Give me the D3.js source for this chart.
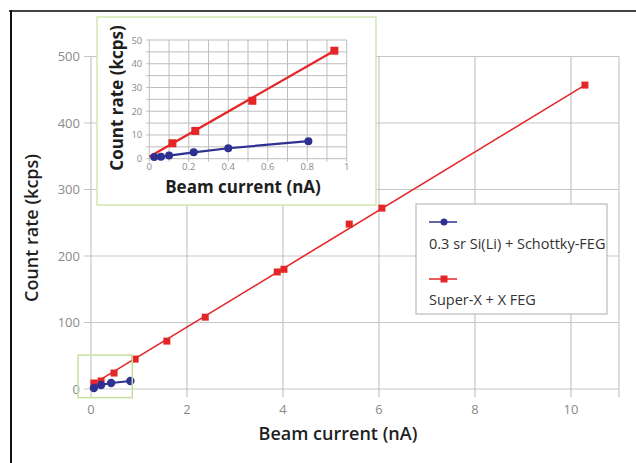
<!DOCTYPE html>
<meta charset="utf-8">
<style>
body { margin: 0; background: #fff; }
svg { display: block; font-family: "Open Sans", "Noto Sans", sans-serif; }
.tick-label { fill: #8a8a8a; }
.title { fill: #1e1e1e; }
.grid line { stroke: #c6c6c6; stroke-width: 1.2px; }
.igrid line { stroke: #bdbdbd; stroke-width: 1px; }
</style>
<body>
<script src="https://d3js.org/d3.v7.min.js"></script>
<script>

// main chart values
var xTicks = [0, 2, 4, 6, 8, 10];
var yTicks = [0, 100, 200, 300, 400, 500];

var blueX = [0.06, 0.21, 0.42, 0.82];
var blueY = [1.5, 6, 9, 12];

var redX = [0.06, 0.21, 0.48, 0.92, 1.58, 2.38, 3.88, 4.02, 5.38, 6.06, 10.29];
var redY = [9, 12, 24, 45, 72, 108, 176, 180, 248, 272, 457];
var redFitX = [0.06, 10.29];
var redFitY = [8, 457];

// inset values
var insetXTicks = [0, 0.2, 0.4, 0.6, 0.8, 1];
var insetYTicks = [0, 10, 20, 30, 40, 50];

var insetBlueX = [0.025, 0.059, 0.1, 0.225, 0.40, 0.806];
var insetBlueY = [0.7, 0.8, 1.3, 2.7, 4.4, 7.4];

var insetRedX = [0.117, 0.233, 0.522, 0.9375];
var insetRedY = [6.5, 11.7, 24.4, 45.5];
var insetRedFitX = [0, 0.9375];
var insetRedFitY = [0.8, 45.5];

var zoomBoxX = [-0.27, 0.86];
var zoomBoxY = [-13, 51];

var legendNames = ["0.3 sr Si(Li) + Schottky-FEG", "Super-X + X FEG"];

var blue = "#2e3192", red = "#e52629", green = "#c6e09c";

var W = 636, H = 463;
var svg = d3.select("body").append("svg")
    .attr("width", W)
    .attr("height", H);

function zip(xs, ys) { return xs.map(function(v, i) { return [v, ys[i]]; }); }

// outer frame
svg.append("line").attr("x1", 9).attr("x2", W).attr("y1", 11).attr("y2", 11)
    .attr("stroke", "#444").attr("stroke-width", 2);
svg.append("line").attr("x1", 11).attr("x2", 11).attr("y1", 10).attr("y2", H)
    .attr("stroke", "#111").attr("stroke-width", 2);

// ---------- main chart ----------
var x = d3.scaleLinear().domain([0, 11]).range([91, 619]);
var y = d3.scaleLinear().domain([0, 500]).range([389, 56.5]);

var grid = svg.append("g").attr("class", "grid");
// vertical grid lines, reaching below the axis as ticks
grid.selectAll(".vx")
    .data(xTicks.concat([11]))
    .enter().append("line")
    .attr("x1", function(d) { return x(d); })
    .attr("x2", function(d) { return x(d); })
    .attr("y1", y(500))
    .attr("y2", y(0) + 8);
grid.selectAll(".hy")
    .data(yTicks)
    .enter().append("line")
    .attr("x1", x(0) - 7)
    .attr("x2", x(11))
    .attr("y1", function(d) { return y(d); })
    .attr("y2", function(d) { return y(d); });

svg.selectAll(".xl")
    .data(xTicks)
    .enter().append("text")
    .attr("class", "tick-label")
    .attr("x", function(d) { return x(d); })
    .attr("y", y(0) + 25)
    .attr("text-anchor", "middle")
    .style("font-size", "13px")
    .text(function(d) { return d; });

svg.selectAll(".yl")
    .data(yTicks)
    .enter().append("text")
    .attr("class", "tick-label")
    .attr("x", x(0) - 11)
    .attr("y", function(d) { return y(d) + 4.5; })
    .attr("text-anchor", "end")
    .style("font-size", "13px")
    .text(function(d) { return d; });

svg.append("text")
    .attr("class", "title")
    .attr("x", 338)
    .attr("y", 440)
    .attr("text-anchor", "middle")
    .style("font-size", "18px")
    .style("font-weight", 600)
    .text("Beam current (nA)");

svg.append("text")
    .attr("class", "title")
    .attr("transform", "translate(38,228) rotate(-90)")
    .attr("text-anchor", "middle")
    .style("font-size", "18px")
    .style("font-weight", 600)
    .text("Count rate (kcps)");

var line = d3.line()
    .x(function(d) { return x(d[0]); })
    .y(function(d) { return y(d[1]); });

svg.append("path")
    .datum(zip(redFitX, redFitY))
    .attr("d", line)
    .attr("fill", "none")
    .attr("stroke", red)
    .attr("stroke-width", 1.6);

svg.selectAll(".rs")
    .data(zip(redX, redY))
    .enter().append("rect")
    .attr("x", function(d) { return x(d[0]) - 3.5; })
    .attr("y", function(d) { return y(d[1]) - 3.5; })
    .attr("width", 7)
    .attr("height", 7)
    .attr("fill", red);

svg.append("path")
    .datum(zip(blueX, blueY))
    .attr("d", line)
    .attr("fill", "none")
    .attr("stroke", blue)
    .attr("stroke-width", 2);

svg.selectAll(".bc")
    .data(zip(blueX, blueY))
    .enter().append("circle")
    .attr("cx", function(d) { return x(d[0]); })
    .attr("cy", function(d) { return y(d[1]); })
    .attr("r", 4.2)
    .attr("fill", blue);

// zoom box around origin
svg.append("rect")
    .attr("x", x(zoomBoxX[0]))
    .attr("y", y(zoomBoxY[1]))
    .attr("width", x(zoomBoxX[1]) - x(zoomBoxX[0]))
    .attr("height", y(zoomBoxY[0]) - y(zoomBoxY[1]))
    .attr("fill", "none")
    .attr("stroke", green)
    .attr("stroke-width", 1.5);

// legend
var lg = svg.append("g").attr("transform", "translate(416,204)");
lg.append("rect")
    .attr("width", 191).attr("height", 110)
    .attr("fill", "#fff").attr("stroke", "#bbb").attr("stroke-width", 1.2);
lg.append("line").attr("x1", 13).attr("x2", 41).attr("y1", 18).attr("y2", 18)
    .attr("stroke", blue).attr("stroke-width", 1.5);
lg.append("circle").attr("cx", 28).attr("cy", 18).attr("r", 3.5).attr("fill", blue);
lg.append("line").attr("x1", 13).attr("x2", 41).attr("y1", 75).attr("y2", 75)
    .attr("stroke", red).attr("stroke-width", 1.5);
lg.append("rect").attr("x", 24.5).attr("y", 71.5).attr("width", 7).attr("height", 7).attr("fill", red);
lg.selectAll(".lt")
    .data(legendNames)
    .enter().append("text")
    .attr("x", 13)
    .attr("y", function(d, i) { return 45 + i * 56; })
    .style("font-size", "14.5px")
    .attr("fill", "#333")
    .text(function(d) { return d; });

// ---------- inset ----------
svg.append("rect")
    .attr("x", 97).attr("y", 17)
    .attr("width", 279).attr("height", 188)
    .attr("fill", "#fff")
    .attr("stroke", green)
    .attr("stroke-width", 1.2);

var ix = d3.scaleLinear().domain([0, 1]).range([149.3, 346.7]);
var iy = d3.scaleLinear().domain([0, 50]).range([158.7, 40]);

var ig = svg.append("g").attr("class", "igrid");
ig.selectAll(".iv")
    .data(d3.range(0, 11).map(function(i) { return i / 10; }))
    .enter().append("line")
    .attr("x1", function(d) { return ix(d); })
    .attr("x2", function(d) { return ix(d); })
    .attr("y1", iy(50))
    .attr("y2", iy(0) + 3);
ig.selectAll(".ih")
    .data(d3.range(0, 11).map(function(i) { return i * 5; }))
    .enter().append("line")
    .attr("x1", ix(0) - 3)
    .attr("x2", ix(1))
    .attr("y1", function(d) { return iy(d); })
    .attr("y2", function(d) { return iy(d); });

svg.selectAll(".ixl")
    .data(insetXTicks)
    .enter().append("text")
    .attr("class", "tick-label")
    .attr("x", function(d) { return ix(d); })
    .attr("y", iy(0) + 11.5)
    .attr("text-anchor", "middle")
    .style("font-size", "9.5px")
    .text(function(d) { return d; });

svg.selectAll(".iyl")
    .data(insetYTicks)
    .enter().append("text")
    .attr("class", "tick-label")
    .attr("x", ix(0) - 7)
    .attr("y", function(d) { return iy(d) + 3.5; })
    .attr("text-anchor", "end")
    .style("font-size", "9.5px")
    .text(function(d) { return d; });

svg.append("text")
    .attr("class", "title")
    .attr("x", 243)
    .attr("y", 193)
    .attr("text-anchor", "middle")
    .style("font-size", "17px")
    .style("font-weight", 700)
    .attr("fill", "#111")
    .text("Beam current (nA)");

svg.append("text")
    .attr("class", "title")
    .attr("transform", "translate(123,98) rotate(-90)")
    .attr("text-anchor", "middle")
    .style("font-size", "17px")
    .style("font-weight", 700)
    .text("Count rate (kcps)");

var iline = d3.line()
    .x(function(d) { return ix(d[0]); })
    .y(function(d) { return iy(d[1]); });

svg.append("path")
    .datum(zip(insetRedFitX, insetRedFitY))
    .attr("d", iline)
    .attr("fill", "none")
    .attr("stroke", red)
    .attr("stroke-width", 2.2);

svg.selectAll(".irs")
    .data(zip(insetRedX, insetRedY))
    .enter().append("rect")
    .attr("x", function(d) { return ix(d[0]) - 4; })
    .attr("y", function(d) { return iy(d[1]) - 4; })
    .attr("width", 8)
    .attr("height", 8)
    .attr("fill", red);

svg.append("path")
    .datum(zip(insetBlueX, insetBlueY))
    .attr("d", iline)
    .attr("fill", "none")
    .attr("stroke", blue)
    .attr("stroke-width", 2.2);

svg.selectAll(".ibc")
    .data(zip(insetBlueX, insetBlueY))
    .enter().append("circle")
    .attr("cx", function(d) { return ix(d[0]); })
    .attr("cy", function(d) { return iy(d[1]); })
    .attr("r", 4)
    .attr("fill", blue);

</script>
</body>
